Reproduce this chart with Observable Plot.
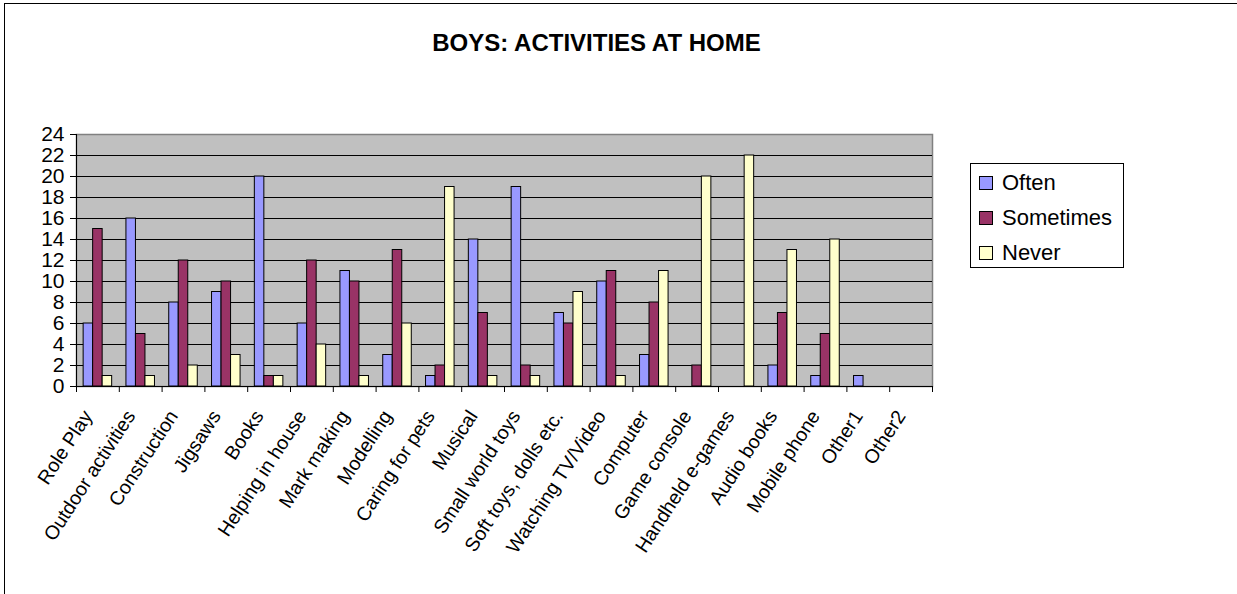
<!DOCTYPE html>
<html>
<head>
<meta charset="utf-8">
<script src="https://cdn.jsdelivr.net/npm/d3@7"></script>
<script src="https://cdn.jsdelivr.net/npm/@observablehq/plot@0.6"></script>
<style>
  html, body { margin: 0; padding: 0; background: #fff; }
  body { font-family: "Liberation Sans", Arial, sans-serif; }
  #wrap { position: relative; width: 1237px; height: 594px; overflow: hidden; }
  #border { position: absolute; left: 4px; top: 3px; width: 1240px; height: 600px; border-left: 1px solid #000; border-top: 1px solid #000; }
  #title { position: absolute; left: 0; width: 1193px; top: 29px; text-align: center; font-weight: bold; font-size: 24px; color: #000; }
  #chart { position: absolute; left: 0; top: 0; }
  #legend { position: absolute; left: 970px; top: 163px; width: 154px; height: 105px; border: 1px solid #000; background: #fff; box-sizing: border-box; }
  .item { position: absolute; left: 8px; font-size: 22px; line-height: 24px; color: #000; }
  .sw { position: absolute; left: 0; top: 5px; width: 12px; height: 12px; border: 1px solid #000; }
  .lab { position: absolute; left: 23px; top: 0; white-space: nowrap; }
</style>
</head>
<body>
<div id="wrap">
  <div id="border"></div>
  <div id="title">BOYS: ACTIVITIES AT HOME</div>
  <div id="chart"></div>
  <div id="legend"></div>
</div>
<script>
const categories = ["Role Play","Outdoor activities","Construction","Jigsaws","Books","Helping in house","Mark making","Modelling","Caring for pets","Musical","Small world toys","Soft toys, dolls etc.","Watching TV/Video","Computer","Game console","Handheld e-games","Audio books","Mobile phone","Other1","Other2"];
const series = ["Often","Sometimes","Never"];
const often     = [6,16,8,9,20,6,11,3,1,14,19,7,10,3,0,0,2,1,1,0];
const sometimes = [15,5,12,10,1,12,10,13,2,7,2,6,11,8,2,0,7,5,0,0];
const never     = [1,1,2,3,1,4,1,6,19,1,1,9,1,11,20,22,13,14,0,0];
const colors = ["#9999FF","#993366","#FFFFCC"];
const yTicks = [0,2,4,6,8,10,12,14,16,18,20,22,24];

const W = 1237, H = 594;
const mL = 76, mR = 305, mT = 134, mB = 208;
const bw = (W - mL - mR) / categories.length;
const barW = bw * 2 / 9;
const pad = (bw - 3 * barW) / 2;
const plotH = H - mT - mB;

const valuesBySeries = [often, sometimes, never];
const barMarks = series.map((s, i) => {
  const data = categories.map((c, j) => ({category: c, value: valuesBySeries[i][j]})).filter(d => d.value > 0);
  return Plot.barY(data, {
    x: "category", y: "value",
    fill: colors[i], stroke: "#000", strokeWidth: 1,
    insetLeft: pad + i * barW, insetRight: bw - pad - (i + 1) * barW
  });
});

const chart = Plot.plot({
  width: W, height: H,
  marginLeft: mL, marginRight: mR, marginTop: mT, marginBottom: mB,
  style: {fontFamily: "'Liberation Sans', Arial, sans-serif", background: "transparent"},
  x: {domain: categories, padding: 0, round: false},
  y: {domain: [0, 24]},
  marks: [
    Plot.frame({fill: "#C0C0C0", stroke: "#808080", strokeWidth: 1.5}),
    Plot.ruleY(yTicks.filter(v => v > 0 && v < 24), {stroke: "#000", strokeWidth: 1}),
    ...barMarks,
    Plot.ruleX([categories[0]], {dx: -bw / 2, stroke: "#000"}),
    Plot.ruleY([0], {stroke: "#000", strokeWidth: 1}),
    Plot.ruleX(categories, {dx: -bw / 2, insetTop: plotH, insetBottom: -6, stroke: "#000"}),
    Plot.ruleX([categories[categories.length - 1]], {dx: bw / 2, insetTop: plotH, insetBottom: -6, stroke: "#000"}),
    Plot.axisY({ticks: yTicks, tickSize: 6, tickPadding: 6, fontSize: 21, label: null, stroke: "#000", color: "#000"}),
    Plot.axisX({tickSize: 0, tickRotate: -57, tickPadding: 26, dx: -10, fontSize: 19.5, label: null, color: "#000"})
  ]
});
document.getElementById("chart").appendChild(chart);

const legend = document.getElementById("legend");
series.forEach((s, i) => {
  const it = document.createElement("div");
  it.className = "item";
  it.style.top = (7 + i * 35) + "px";
  const sw = document.createElement("div");
  sw.className = "sw";
  sw.style.background = colors[i];
  const lab = document.createElement("div");
  lab.className = "lab";
  lab.textContent = s;
  it.appendChild(sw); it.appendChild(lab);
  legend.appendChild(it);
});
</script>
</body>
</html>
